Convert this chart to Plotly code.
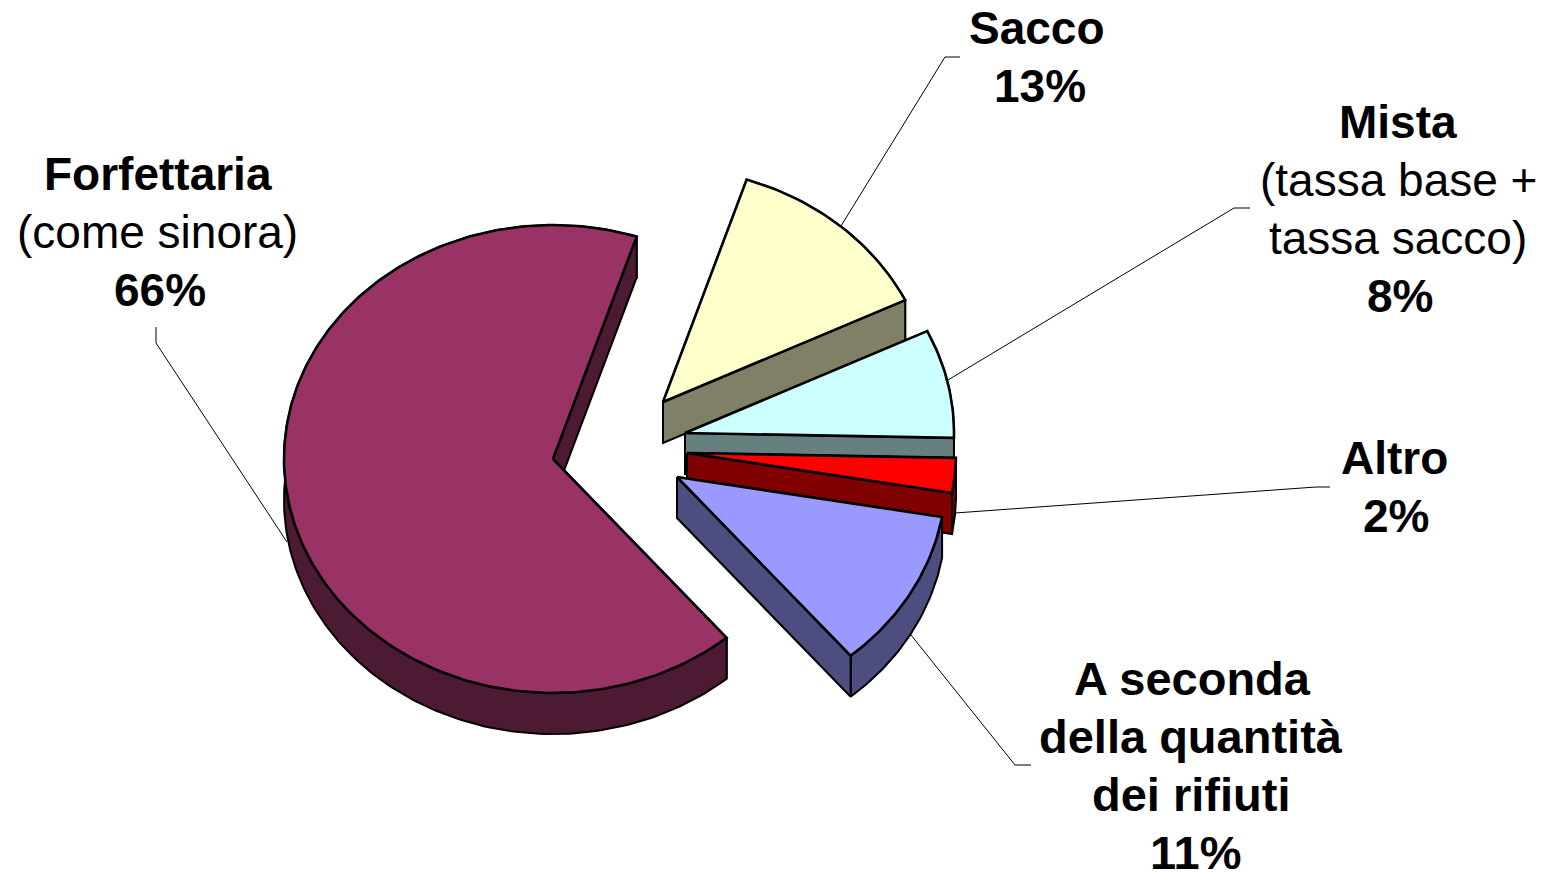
import numpy as np
import plotly.graph_objects as go

# --- data -------------------------------------------------------------
categories = ["Forfettaria", "Sacco", "Mista", "Altro", "A seconda della quantità dei rifiuti"]
shares = [66.2, 12.8, 7.5, 2.4, 11.1]
label_lines = [
    ["<b>Forfettaria</b>", "(come sinora)", "<b>66%</b>"],
    ["<b>Sacco</b>", "<b>13%</b>"],
    ["<b>Mista</b>", "(tassa base +", "tassa sacco)", "<b>8%</b>"],
    ["<b>Altro</b>", "<b>2%</b>"],
    ["<b>A seconda</b>", "<b>della quantità</b>", "<b>dei rifiuti</b>", "<b>11%</b>"],
]

# --- style / layout ---------------------------------------------------
top_colors = ["#993366", "#FFFFCC", "#CCFFFF", "#FF0000", "#9999FF"]
side_colors = ["#4D1A33", "#808066", "#668080", "#800000", "#4D4D80"]
apex = [(553, 459), (663, 402), (685, 433), (687, 453), (677, 477)]
RX, RY, DEPTH = 269, 234, 41
START = 139.8
LINE_H = 58
BODY_MARGIN = 8  # the page's default body margin shifts the figure by this much
label_pos = [  # x centres per line, y of first line, font size
    ([158, 157, 160], 174, 46),
    ([1037, 1040], 28, 46),
    ([1398, 1398, 1398, 1400], 122, 46),
    ([1394, 1396], 458, 46),
    ([1192, 1191, 1191, 1195], 678, 47),
]
leaders = [
    ([156, 156, 287], [327, 343, 542]),
    ([960, 945, 841], [57, 57, 226]),
    ([1250, 1234, 948], [208, 208, 380]),
    ([1330, 1316, 955], [487, 487, 513]),
    ([1031, 1015, 911], [765, 765, 635]),
]
FONT = "Liberation Sans, Arial, sans-serif"


def arc(cx, cy, a0, a1):
    t = np.radians(np.linspace(a0, a1, max(int(abs(a1 - a0)), 2) + 1))
    return cx + RX * np.sin(t), cy - RY * np.cos(t)


def poly(fig, x, y, color, width=2.0):
    fig.add_trace(go.Scatter(
        x=list(x) + [x[0]], y=list(y) + [y[0]], mode="lines", fill="toself",
        fillcolor=color, line=dict(color="black", width=width, shape="linear"),
        hoverinfo="skip", showlegend=False))


fig = go.Figure()

for xs, ys in leaders:
    fig.add_trace(go.Scatter(x=xs, y=ys, mode="lines", line=dict(color="black", width=1),
                             hoverinfo="skip", showlegend=False))

angle = START
for share, (cx, cy), top, side in zip(shares, apex, top_colors, side_colors):
    a0, a1 = angle, angle + share * 3.6
    angle = a1
    ax, ay = arc(cx, cy, a0, a1)
    # start cut face (back-facing for every slice here)
    poly(fig, [cx, ax[0], ax[0], cx], [cy, ay[0], ay[0] + DEPTH, cy + DEPTH], side, 2.0)
    # outer wall
    poly(fig, np.r_[ax, ax[::-1]], np.r_[ay, ay[::-1] + DEPTH], side, 2.0)
    # end cut face (front-facing)
    poly(fig, [cx, ax[-1], ax[-1], cx], [cy, ay[-1], ay[-1] + DEPTH, cy + DEPTH], side, 2.0)
    # top
    poly(fig, np.r_[cx, ax], np.r_[cy, ay], top, 2.6)

annotations = []
for lines, (xs, y0, size) in zip(label_lines, label_pos):
    for i, (line, x) in enumerate(zip(lines, xs)):
        annotations.append(dict(
            x=x, y=y0 + i * LINE_H, text=line, showarrow=False,
            xanchor="center", yanchor="middle",
            font=dict(family=FONT, size=size, color="black")))

fig.update_layout(
    width=1545 - BODY_MARGIN, height=872 - BODY_MARGIN, margin=dict(l=0, r=0, t=0, b=0),
    paper_bgcolor="white", plot_bgcolor="white", showlegend=False,
    xaxis=dict(range=[BODY_MARGIN, 1545], visible=False, fixedrange=True),
    yaxis=dict(range=[872, BODY_MARGIN], visible=False, fixedrange=True),
    annotations=annotations)

fig.write_html("out.html", config=dict(displayModeBar=False))
